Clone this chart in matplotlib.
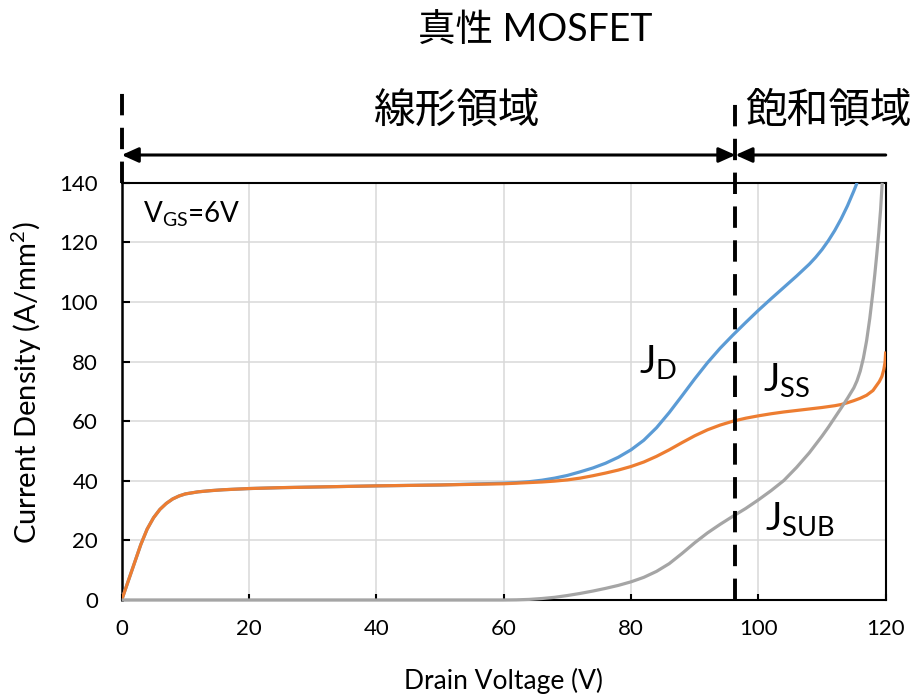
import matplotlib
matplotlib.use("Agg")
import matplotlib.pyplot as plt
import matplotlib.transforms as mtransforms

plt.rcParams['font.family'] = ['Lato', 'Noto Sans CJK JP', 'DejaVu Sans']
plt.rcParams['mathtext.fontset'] = 'custom'
plt.rcParams['mathtext.rm'] = 'Lato'
plt.rcParams['mathtext.it'] = 'Lato:italic'
plt.rcParams['mathtext.bf'] = 'Lato:bold'

# ---------------- data ----------------
jd_v = [0, 1, 2, 3, 4, 5, 6, 7, 8, 9, 10, 12, 14, 16, 20, 25, 30, 40, 50,
        60, 62, 64, 66, 68, 70, 72, 74, 76, 78, 80, 82, 84, 86, 88, 90, 92, 94, 96,
        98, 100, 102, 104, 106, 108, 109, 110, 111, 112, 113, 114, 115, 115.5]
jd = [0, 6.2, 12.4, 18.6, 23.8, 27.6, 30.4, 32.4, 33.9, 34.9, 35.6, 36.3, 36.7, 37.0,
      37.4, 37.7, 37.9, 38.3, 38.6,
      39.2, 39.4, 39.7, 40.2, 40.9, 41.8, 43.0, 44.3, 45.9, 47.9, 50.4, 53.6, 57.8,
      62.9, 68.5, 74.2, 79.6, 84.5, 88.9, 93.1, 97.2, 101.1, 104.9, 108.7, 112.7,
      115.0, 117.6, 120.6, 124.0, 127.9, 132.3, 137.3, 140.0]

jss_v = [0, 1, 2, 3, 4, 5, 6, 7, 8, 9, 10, 12, 14, 16, 20, 25, 30, 40, 50,
         60, 62, 64, 66, 68, 70, 72, 74, 76, 78, 80, 82, 84, 86, 88, 90, 92, 94, 96,
         98, 100, 102, 104, 106, 108, 110, 112, 113, 114, 115, 116, 117, 118, 118.5,
         119, 119.4, 119.7, 119.9, 120]
jss = [0, 6.2, 12.4, 18.6, 23.8, 27.6, 30.4, 32.4, 33.9, 34.9, 35.6, 36.3, 36.7, 37.0,
       37.4, 37.7, 37.9, 38.3, 38.6,
       39.0, 39.2, 39.4, 39.6, 39.9, 40.3, 40.9, 41.7, 42.6, 43.6, 44.8, 46.3, 48.2,
       50.4, 52.8, 55.1, 57.1, 58.7, 60.0, 61.0, 61.8, 62.5, 63.1, 63.6, 64.1, 64.6,
       65.2, 65.6, 66.2, 66.9, 67.7, 68.7, 70.3, 71.8, 73.3, 75.0, 77.3, 79.8, 83.4]

jsub_v = [0, 20, 40, 60, 62, 64, 66, 68, 70, 72, 74, 76, 78, 80, 82, 84, 86, 88, 90,
          92, 94, 96, 98, 100, 102, 104, 106, 108, 110, 111, 112, 113, 114, 115, 115.5,
          116, 116.5, 117, 117.5, 118, 118.3, 118.6, 118.9, 119.2, 119.45]
jsub = [0, 0, 0, 0, 0.05, 0.2, 0.5, 0.9, 1.5, 2.2, 3.0, 3.9, 4.9, 6.1, 7.6, 9.6,
        12.2, 15.6, 19.2, 22.5, 25.4, 28.1, 30.7, 33.6, 36.7, 40.1, 44.5, 49.4, 55.0,
        58.0, 61.2, 64.4, 67.7, 71.2, 73.6, 76.8, 81.2, 87.0, 94.5, 103.5, 109.5,
        116.0, 123.0, 131.0, 140.0]

boundary_v = 96.4
x_ticks = [0, 20, 40, 60, 80, 100, 120]
y_ticks = [0, 20, 40, 60, 80, 100, 120, 140]

c_jd = '#5b9bd5'
c_jss = '#ed7d31'
c_jsub = '#a5a5a5'

# ---------------- figure ----------------
fig = plt.figure(figsize=(9.17, 6.97), dpi=100)
ax = fig.add_axes([121.7 / 917, 1 - 600 / 697, (885.7 - 121.7) / 917, (600 - 182.8) / 697])

ax.plot(jd_v, jd, color=c_jd, lw=2.3, zorder=3, solid_capstyle='butt', solid_joinstyle='round')
ax.plot(jss_v, jss, color=c_jss, lw=2.3, zorder=3.1, solid_capstyle='butt', solid_joinstyle='round')
ax.plot(jsub_v, jsub, color=c_jsub, lw=2.3, zorder=3.2, clip_on=False, solid_capstyle='butt',
        solid_joinstyle='round')

ax.set_xlim(0, 120)
ax.set_ylim(0, 140)
ax.set_xticks(x_ticks)
ax.set_yticks(y_ticks)
ax.grid(True, color='#d9d9d9', lw=1.1, zorder=0)
ax.set_axisbelow(True)

for s in ax.spines.values():
    s.set_color('black')
    s.set_linewidth(1.5)
ax.spines['left'].set_linewidth(1.8)

ax.tick_params(axis='x', direction='in', length=4, width=1.5, labelsize=16, pad=14)
ax.tick_params(axis='y', direction='in', length=6, width=1.5, labelsize=16, pad=17)

ax.set_xlabel('Drain Voltage (V)', fontsize=19)
ax.set_ylabel('Current Density (A/mm$^2$)', fontsize=21)
ax.xaxis.set_label_coords(0.5, -0.162)
ax.yaxis.set_label_coords(-0.102, 0.52)

# dashed boundary lines
trans = mtransforms.blended_transform_factory(ax.transData, ax.transAxes)
top_frac = (600 - 93) / (600 - 182.8)
ax.plot([boundary_v, boundary_v], [0, top_frac], transform=trans, color='black',
        lw=2.8, ls=(0, (5.5, 3.2)), clip_on=False, zorder=5)
ax.plot([0, 0], [1.0, top_frac], transform=trans, color='black',
        lw=2.8, ls=(0, (5.5, 3.2)), clip_on=False, zorder=5)

# arrows
arr_y = (600 - 155) / (600 - 182.8)
ax.annotate('', xy=(0, arr_y), xycoords=trans, xytext=(boundary_v, arr_y), textcoords=trans,
            arrowprops=dict(arrowstyle='<|-|>,head_length=1.0,head_width=0.45', color='black',
                            lw=2.2, shrinkA=0, shrinkB=0), annotation_clip=False)
ax.annotate('', xy=(boundary_v, arr_y), xycoords=trans, xytext=(120, arr_y), textcoords=trans,
            arrowprops=dict(arrowstyle='-|>,head_length=1.0,head_width=0.45', color='black',
                            lw=2.2, shrinkA=0, shrinkB=0), annotation_clip=False)

lab_y = (600 - 111) / (600 - 182.8)
ax.text(52.7, lab_y, '線形領域', transform=trans, ha='center', va='center', fontsize=30,
        family=['Noto Sans CJK JP'])
ax.text(111.0, lab_y, '飽和領域', transform=trans, ha='center', va='center', fontsize=30,
        family=['Noto Sans CJK JP'])

fig.text(0.584, 0.955, '真性 MOSFET', ha='center', va='center', fontsize=27)

# curve labels
ax.text(3.3, 126.6, r'$\mathregular{V_{GS}}$=6V', fontsize=20, ha='left', va='baseline')
ax.text(81.2, 76.2, r'$\mathregular{J_D}$', fontsize=28, ha='left', va='baseline')
ax.text(100.8, 70.2, r'$\mathregular{J_{SS}}$', fontsize=28, ha='left', va='baseline')
ax.text(101.0, 23.5, r'$\mathregular{J_{SUB}}$', fontsize=28, ha='left', va='baseline')

fig.savefig('out.png', dpi=100)
